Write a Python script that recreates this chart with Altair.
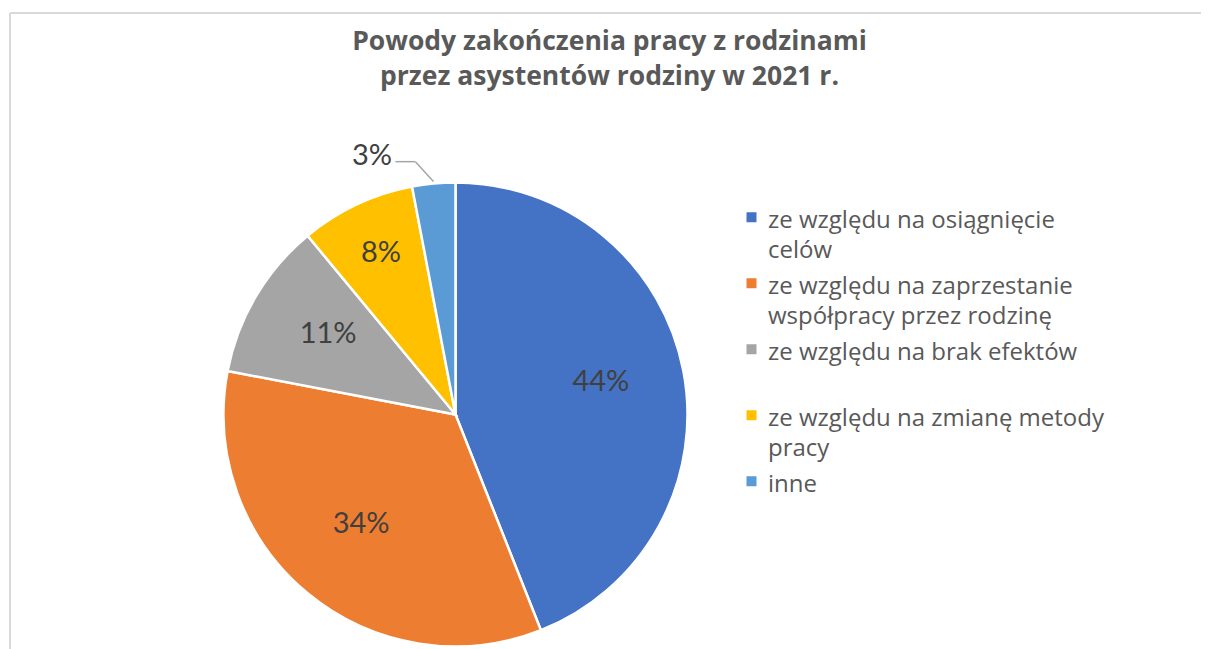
import altair as alt
import pandas as pd

# ---- data ----
categories = [
    "ze względu na osiągnięcie\ncelów",
    "ze względu na zaprzestanie\nwspółpracy przez rodzinę",
    "ze względu na brak efektów",
    "ze względu na zmianę metody\npracy",
    "inne",
]
values = [44, 34, 11, 8, 3]
colors = ["#4472C4", "#ED7D31", "#A5A5A5", "#FFC000", "#5B9BD5"]
title_lines = ["Powody zakończenia pracy z rodzinami", "przez asystentów rodziny w 2021 r."]

df = pd.DataFrame({"category": categories, "value": values, "idx": list(range(len(values)))})
title_df = pd.DataFrame({"title": ["\n".join(title_lines)]})

# ---- layout (styling) ----
W, H = 1191, 636
CX, CY, R = 445.5, 401.5, 232
FONT = "Lato"
TFONT = "Open Sans"

base = alt.Chart(df)
theta = alt.Theta("value:Q", stack=True)
order = alt.Order("idx:Q")
cx = alt.value(CX)
cy = alt.value(CY)

legend = alt.Legend(
    title=None, orient="none", legendX=729.5, legendY=183.5, padding=0,
    labelFont=TFONT, labelFontSize=24, labelColor="#595959", labelLimit=700,
    labelBaseline="top", labelOffset=4.5,
    labelExpr="split(datum.label, '\\n')",
    symbolType="M-1,0.75H1V2.75H-1Z", symbolSize=100, symbolStrokeWidth=0,
    rowPadding=-4, gridAlign="all",
)

pie = base.mark_arc(stroke="white", strokeWidth=2.5).encode(
    theta=theta,
    order=order,
    color=alt.Color("category:N", scale=alt.Scale(domain=categories, range=colors), legend=legend),
    x=cx, y=cy, radius=alt.value(R),
)

label_style = dict(font=FONT, fontSize=29, color="#404040", align="center", baseline="middle")

big_lab = base.transform_calculate(
    lab="datum.value >= 10 ? datum.value + '%' : ''",
).mark_text(radius=148, dy=-5, **label_style).encode(
    theta=theta, order=order, text="lab:N", x=cx, y=cy,
)

mid_lab = base.transform_calculate(
    lab="datum.value >= 5 && datum.value < 10 ? datum.value + '%' : ''",
).mark_text(radius=175, dy=-3, **label_style).encode(
    theta=theta, order=order, text="lab:N", x=cx, y=cy,
)

small_lab = base.transform_calculate(
    lab="datum.value < 5 ? datum.value + '%' : ''",
).mark_text(radius=272, thetaOffset=-0.218, **label_style).encode(
    theta=theta, order=order, text="lab:N", x=cx, y=cy,
)

lead = base.transform_joinaggregate(total="sum(value)").transform_window(
    cum="sum(value)", sort=[alt.SortField("idx")], frame=[None, 0]
).transform_calculate(
    mid="(datum.cum - datum.value / 2) / datum.total * 2 * PI"
).transform_filter("datum.value < 5").transform_calculate(
    x0=f"{CX} + {R + 2} * sin(datum.mid)",
    y0=f"{CY} - {R + 2} * cos(datum.mid)",
    x1=f"{CX} + 256 * sin(datum.mid - 0.063)",
    y1=f"{CY} - 256 * cos(datum.mid - 0.063)",
    x2="datum.x1 - 20",
)

seg1 = lead.mark_rule(color="#A6A6A6", strokeWidth=1.5).encode(
    x=alt.X("x0:Q", scale=None, axis=None), y=alt.Y("y0:Q", scale=None, axis=None),
    x2="x1:Q", y2="y1:Q",
)
seg2 = lead.mark_rule(color="#A6A6A6", strokeWidth=1.5).encode(
    x=alt.X("x1:Q", scale=None, axis=None), y=alt.Y("y1:Q", scale=None, axis=None),
    x2="x2:Q", y2="y1:Q",
)

# chart frame (top and left edges; the others fall outside the picture)
frame_top = alt.Chart(title_df).mark_rule(color="#D9D9D9", strokeWidth=2).encode(
    x=alt.value(0), x2=alt.value(W), y=alt.value(0)
)
frame_left = alt.Chart(title_df).mark_rule(color="#D9D9D9", strokeWidth=2).encode(
    x=alt.value(0), y=alt.value(0), y2=alt.value(H)
)

title = alt.Chart(title_df).mark_text(
    font=TFONT, fontSize=26.5, fontWeight="bold", color="#595959",
    align="center", baseline="top", lineBreak="\n", lineHeight=35,
).encode(text="title:N", x=alt.value(599.5), y=alt.value(15.5))

chart = alt.layer(frame_top, frame_left, title, pie, big_lab, mid_lab, small_lab, seg1, seg2).properties(
    width=W, height=H,
    autosize=alt.AutoSizeParams(type="none"),
    padding={"left": 2, "top": 5, "right": 0, "bottom": 0},
).configure_view(stroke="transparent").configure(
    style={"guide-label": {"lineHeight": 30}}
)

chart.save("out.html", embed_options={"renderer": "svg", "actions": False})
